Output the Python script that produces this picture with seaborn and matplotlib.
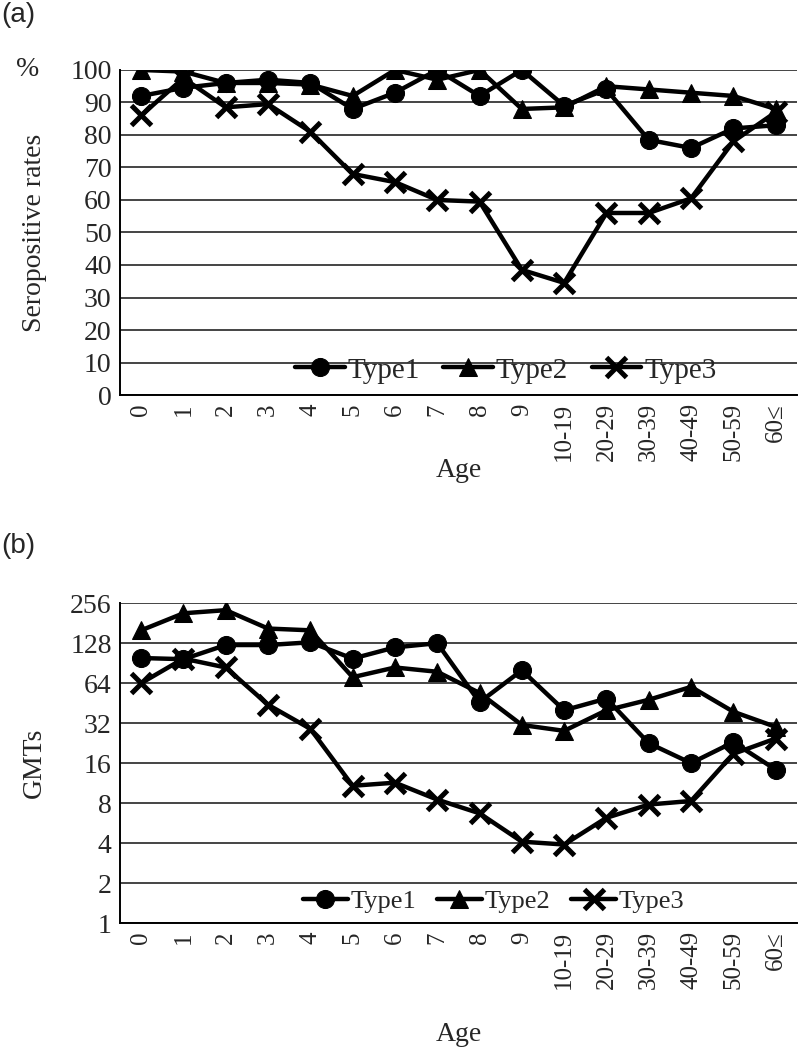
import matplotlib
matplotlib.use('Agg')
import matplotlib.pyplot as plt
import matplotlib.ticker as mticker
import seaborn as sns

# data
ages = ['0', '1', '2', '3', '4', '5', '6', '7', '8', '9',
        '10-19', '20-29', '30-39', '40-49', '50-59', '60≤']

# (a) seropositive rates, %
sero_type1 = [92, 94.5, 96, 97, 96, 88, 93, 100, 92, 100, 89, 94, 78.5, 76, 82, 83]
sero_type2 = [100, 99.5, 96, 96, 95.5, 92, 100, 97, 100, 88, 88.5, 95, 94, 93, 92, 88]
sero_type3 = [86, 97.5, 88.5, 89.5, 81, 68, 65.5, 60, 59.5, 38.5, 34.5, 56, 56, 60.5, 78, 87]

# (b) GMTs
gmt_type1 = [99, 97, 124, 124, 130, 98, 119, 128, 46, 80, 40, 49, 22.6, 16, 23, 14.3]
gmt_type2 = [160, 215, 227, 165, 160, 71, 84, 78, 54, 31, 28, 40, 48, 60, 39, 30]
gmt_type3 = [64, 98, 84, 44, 29, 10.8, 11.4, 8.5, 6.7, 4.1, 3.9, 6.2, 7.8, 8.3, 18.8, 24.5]

type_names = ['Type1', 'Type2', 'Type3']
gmt_ticks = [1, 2, 4, 8, 16, 32, 64, 128, 256]

sns.set_theme(style='white')
plt.rcParams['font.family'] = ['Liberation Serif', 'DejaVu Serif']
plt.rcParams['font.size'] = 18

fig = plt.figure(figsize=(8, 10.52), dpi=100)
ax_a = fig.add_axes([0.15, 0.6245, 0.846, 0.309])
ax_b = fig.add_axes([0.15, 0.1226, 0.846, 0.304])

styles = [
    dict(marker='o', markersize=13),
    dict(marker='^', markersize=13),
    dict(marker='x', markersize=14, markeredgewidth=3.6),
]


def draw(ax, series, leg_size, leg_x, label_y):
    for name, vals, st in zip(type_names, series, styles):
        sns.lineplot(x=ages, y=vals, ax=ax, color='black', linewidth=3.2,
                     markeredgecolor='black', sort=False, label=name, **st)
    ax.set_xlim(-0.5, len(ages) - 0.5)
    ax.grid(axis='y', color='#444444', linewidth=1.4)
    ax.set_axisbelow(True)
    for side in ['top', 'right']:
        ax.spines[side].set_visible(False)
    for side in ['left', 'bottom']:
        ax.spines[side].set_color('black')
        ax.spines[side].set_linewidth(1.4)
    ax.tick_params(axis='both', length=0, pad=6)
    ax.tick_params(axis='y', labelsize=20)
    ax.tick_params(axis='x', labelsize=18, labelrotation=90)
    ax.legend(loc='lower center', bbox_to_anchor=(leg_x, -0.01), ncol=3,
              frameon=False, fontsize=leg_size, handlelength=1.7,
              handletextpad=0.1, columnspacing=0.8, borderaxespad=0.1)
    ax.set_xlabel('Age', fontsize=20)
    ax.xaxis.set_label_coords(0.5, label_y)


draw(ax_a, [sero_type1, sero_type2, sero_type3], 21, 0.57, -0.195)
ax_a.set_ylim(0, 100)
ax_a.set_yticks(range(0, 101, 10))
ax_a.set_ylabel('Seropositive rates', fontsize=20)
ax_a.yaxis.set_label_coords(-0.108, 0.5)

draw(ax_b, [gmt_type1, gmt_type2, gmt_type3], 19, 0.552, -0.31)
ax_b.set_yscale('log', base=2)
ax_b.set_ylim(1, 256)
ax_b.set_yticks(gmt_ticks)
ax_b.yaxis.set_major_formatter(mticker.FuncFormatter(lambda v, p: f'{int(round(v))}'))
ax_b.yaxis.set_minor_locator(mticker.NullLocator())
ax_b.set_ylabel('GMTs', fontsize=20)
ax_b.yaxis.set_label_coords(-0.108, 0.5)

fig.text(28 / 800, 1 - 70 / 1052, '%', ha='center', va='center', fontsize=20)
fig.text(0.002, 0.998, '(a)', ha='left', va='top', fontsize=20,
         family=['Liberation Sans', 'DejaVu Sans'])
fig.text(0.002, 1 - 533 / 1052, '(b)', ha='left', va='top', fontsize=20,
         family=['Liberation Sans', 'DejaVu Sans'])

fig.savefig('out.png', dpi=100)
